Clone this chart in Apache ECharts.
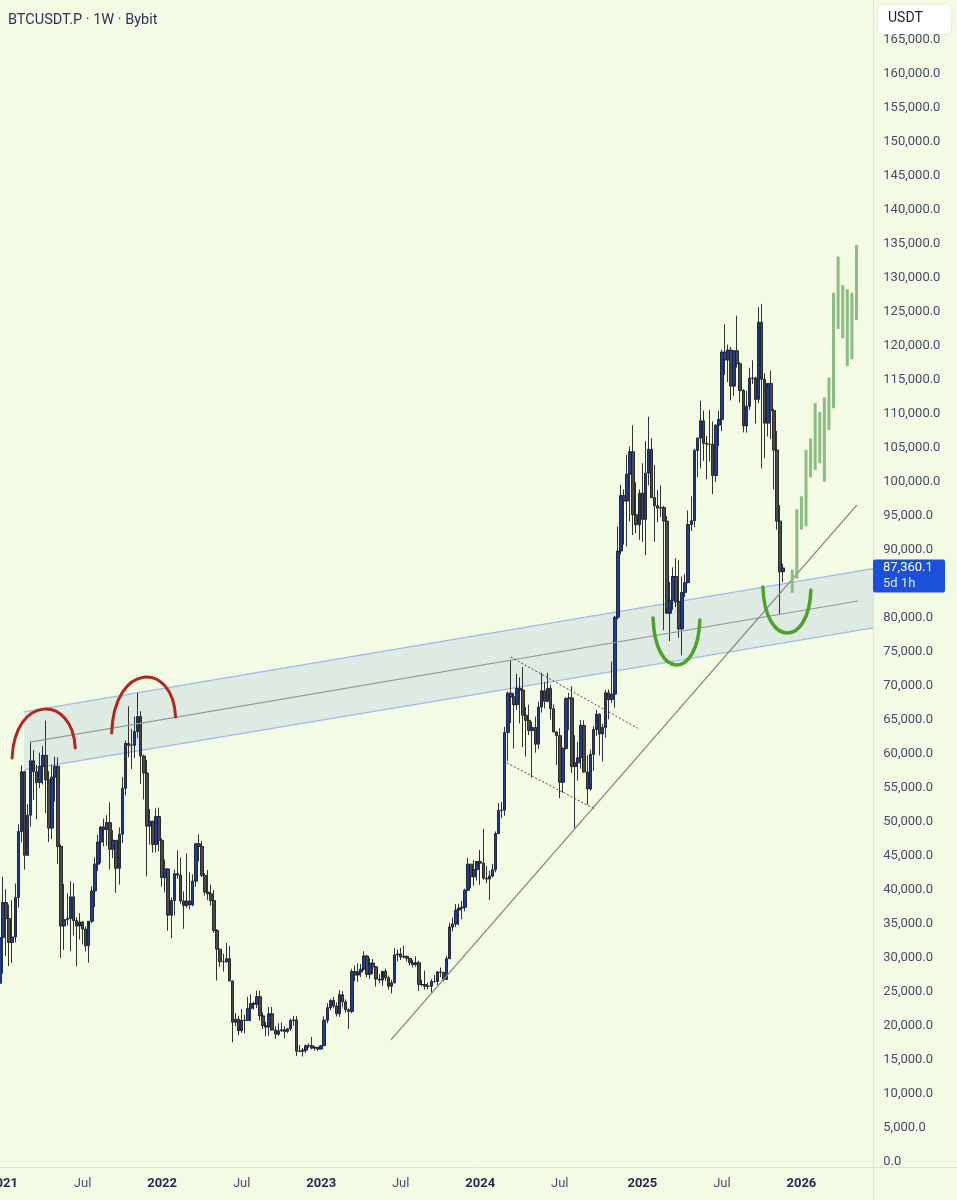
<!DOCTYPE html>
<html>
<head>
<meta charset="utf-8">
<script src="https://cdn.jsdelivr.net/npm/echarts@6/dist/echarts.min.js"></script>
<style>
html,body{margin:0;padding:0;background:#f3fbe5;}
#c{width:957px;height:1200px;}
</style>
</head>
<body>
<div id="c"></div>
<script>
// ---------------- DATA ----------------
const TITLE = 'BTCUSDT.P · 1W · Bybit';
const CURRENCY = 'USDT';
const LAST_PRICE = 87360.1;
const COUNTDOWN = '5d 1h';
const FIRST_WEEK_UTC = [2020, 11, 21];   // Monday 2020-12-21
const TOTAL_WEEKS = 287;                 // weekly slots on the time axis (incl. future)
const JULY_LABEL = 'Jul';

// weekly candles: [week, open, high, low, close]
const weeks = [
['2020-12-21',23450,28400,21800,26280],['2020-12-28',26280,34800,25900,33000],
['2021-01-04',33000,41950,27700,38150],['2021-01-11',38150,40100,30300,35800],['2021-01-18',35800,37850,28800,32280],['2021-01-25',32280,38500,29250,33100],
['2021-02-01',33100,40950,32300,38900],['2021-02-08',38900,49700,37400,48600],['2021-02-15',48600,58350,47000,57400],['2021-02-22',57400,57500,43000,45100],
['2021-03-01',45100,52600,45000,51000],['2021-03-08',51000,61800,49300,59000],['2021-03-15',59000,60600,53250,57400],['2021-03-22',57400,58400,50400,55800],['2021-03-29',55800,60200,55000,58200],
['2021-04-05',58200,61200,55500,59800],['2021-04-12',59800,64900,51300,56200],['2021-04-19',56200,57500,47050,49100],['2021-04-26',49100,58450,47500,56600],
['2021-05-03',56600,59600,53000,58200],['2021-05-10',58200,59500,43800,46400],['2021-05-17',46400,46700,30000,34700],['2021-05-24',34700,40900,31200,35650],['2021-05-31',35650,39500,34800,35800],
['2021-06-07',35800,41300,31000,39000],['2021-06-14',39000,41000,33300,35500],['2021-06-21',35500,36000,28800,34700],['2021-06-28',34700,36600,32700,35300],
['2021-07-05',35300,35400,32000,34250],['2021-07-12',34250,34650,31000,31800],['2021-07-19',31800,34500,29300,35400],['2021-07-26',35400,40550,35100,39850],
['2021-08-02',39850,44800,37500,43800],['2021-08-09',43800,48150,42800,47050],['2021-08-16',47050,49400,43950,49250],['2021-08-23',49250,50500,46400,48900],['2021-08-30',48900,51000,46500,49900],
['2021-09-06',49900,52900,43000,46000],['2021-09-13',46000,48800,44700,47300],['2021-09-20',47300,47300,39600,43200],['2021-09-27',43200,49200,40800,48200],
['2021-10-04',48200,56600,46900,54950],['2021-10-11',54950,62000,53900,61550],['2021-10-18',61550,67000,59500,61300],['2021-10-25',61300,63700,57800,61300],
['2021-11-01',61300,65500,59400,63300],['2021-11-08',63300,69000,62300,65500],['2021-11-15',65500,66300,55600,59700],['2021-11-22',59700,59900,53300,57200],['2021-11-29',57200,59100,42000,49400],
['2021-12-06',49400,51900,46700,50100],['2021-12-13',50100,50200,45500,46700],['2021-12-20',46700,52000,45550,50800],['2021-12-27',50800,52100,45700,47300],
['2022-01-03',47300,47600,40500,41850],['2022-01-10',41850,44500,39650,43100],['2022-01-17',43100,43200,34000,36300],['2022-01-24',36300,38900,32900,38450],['2022-01-31',38450,43000,36250,42400],
['2022-02-07',42400,45850,41650,42200],['2022-02-14',42200,44750,38000,38400],['2022-02-21',38400,39800,34300,37700],['2022-02-28',37700,45400,37400,38400],
['2022-03-07',38400,42600,37150,37800],['2022-03-14',37800,42300,37600,41300],['2022-03-21',41300,46900,40500,46800],['2022-03-28',46800,48200,44200,46400],
['2022-04-04',46400,47200,41900,42150],['2022-04-11',42150,42450,39200,39700],['2022-04-18',39700,42950,38550,39450],['2022-04-25',39450,40800,37700,38450],
['2022-05-02',38450,40000,33700,34050],['2022-05-09',34050,34250,26700,31300],['2022-05-16',31300,31300,28700,29450],['2022-05-23',29450,30650,28000,29450],['2022-05-30',29450,32200,29300,29900],
['2022-06-06',29900,31750,26600,26600],['2022-06-13',26600,26700,17600,20550],['2022-06-20',20550,21900,19950,21000],['2022-06-27',21000,21500,18650,19300],
['2022-07-04',19300,22500,19000,20850],['2022-07-11',20850,21650,18900,20800],['2022-07-18',20800,24300,20750,22600],['2022-07-25',22600,24650,20700,23300],
['2022-08-01',23300,23600,22400,23200],['2022-08-08',23200,25200,22650,24300],['2022-08-15',24300,25200,20800,21500],['2022-08-22',21500,22000,19550,20050],['2022-08-29',20050,20600,18500,19850],
['2022-09-05',19850,22800,18550,21800],['2022-09-12',21800,22800,19350,19400],['2022-09-19',19400,19950,18100,18800],['2022-09-26',18800,20400,18550,19300],
['2022-10-03',19300,20500,19150,19450],['2022-10-10',19450,19950,18200,19200],['2022-10-17',19200,19700,18950,19600],['2022-10-24',19600,21100,19250,20800],['2022-10-31',20800,21500,20050,20900],
['2022-11-07',20900,21450,15600,16300],['2022-11-14',16300,17200,16200,16300],['2022-11-21',16300,16750,15500,16450],['2022-11-28',16450,17300,16050,17100],
['2022-12-05',17100,17450,16800,17100],['2022-12-12',17100,18400,16550,16750],['2022-12-19',16750,17050,16400,16850],['2022-12-26',16850,16950,16350,16600],
['2023-01-02',16600,17200,16550,17100],['2023-01-09',17100,21400,17100,20850],['2023-01-16',20850,23350,20400,22700],['2023-01-23',22700,23950,22300,23750],['2023-01-30',23750,24250,22600,22950],
['2023-02-06',22950,23450,21400,21800],['2023-02-13',21800,25250,21350,24600],['2023-02-20',24600,25100,22750,23550],['2023-02-27',23550,23900,21950,22400],
['2023-03-06',22400,22600,19550,22150],['2023-03-13',22150,28400,21900,28000],['2023-03-20',28000,28900,26600,27500],['2023-03-27',27500,29200,26500,27950],
['2023-04-03',27950,29100,27200,28350],['2023-04-10',28350,31000,28150,30300],['2023-04-17',30300,30450,27150,27600],['2023-04-24',27600,30000,26950,29250],
['2023-05-01',29250,29850,27650,28700],['2023-05-08',28700,28800,25800,26900],['2023-05-15',26900,27650,26300,26750],['2023-05-22',26750,27100,25900,28050],['2023-05-29',28050,28450,26600,27100],
['2023-06-05',27100,27400,25350,25850],['2023-06-12',25850,26800,24800,26350],['2023-06-19',26350,31450,26250,30450],['2023-06-26',30450,31250,29500,30600],
['2023-07-03',30600,31500,29700,30150],['2023-07-10',30150,31800,29950,30250],['2023-07-17',30250,30350,29500,29950],['2023-07-24',29950,29950,28850,29300],['2023-07-31',29300,29750,28600,29050],
['2023-08-07',29050,30250,28700,29300],['2023-08-14',29300,29600,25150,26100],['2023-08-21',26100,26800,25800,26100],['2023-08-28',26100,28150,25350,25850],
['2023-09-04',25850,26400,25400,25850],['2023-09-11',25850,26900,24900,26550],['2023-09-18',26550,27500,26350,26550],['2023-09-25',26550,28050,26000,27950],
['2023-10-02',27950,28600,27200,27900],['2023-10-09',27900,27950,26550,26850],['2023-10-16',26850,30350,26800,29900],['2023-10-23',29900,35200,29850,34550],['2023-10-30',34550,35950,33900,35000],
['2023-11-06',35000,37950,34550,37050],['2023-11-13',37050,37950,34800,37350],['2023-11-20',37350,38400,35700,37450],['2023-11-27',37450,40200,36850,39950],
['2023-12-04',39950,44700,39950,43800],['2023-12-11',43800,43800,40250,41950],['2023-12-18',41950,44400,40600,43000],['2023-12-25',43000,43600,41400,44200],
['2024-01-01',44200,45900,40750,43950],['2024-01-08',43950,49000,41500,41750],['2024-01-15',41750,43550,41000,41600],['2024-01-22',41600,42850,38550,42050],['2024-01-29',42050,43850,41850,43000],
['2024-02-05',43000,48600,42600,48300],['2024-02-12',48300,52800,48200,51700],['2024-02-19',51700,52950,50550,51750],['2024-02-26',51750,64000,50900,63150],
['2024-03-04',63150,69200,59000,68950],['2024-03-11',68950,73800,64550,68400],['2024-03-18',68400,68950,60800,67250],['2024-03-25',67250,71800,66500,69650],
['2024-04-01',69650,71300,64500,69400],['2024-04-08',69400,72800,61000,65700],['2024-04-15',65700,66900,59600,64950],['2024-04-22',64950,67250,62800,63450],['2024-04-29',63450,64750,56550,63900],
['2024-05-06',63900,65500,60200,61450],['2024-05-13',61450,67700,60750,66900],['2024-05-20',66900,71950,66100,69300],['2024-05-27',69300,70600,66700,67750],
['2024-06-03',67750,71950,67600,69650],['2024-06-10',69650,70200,65100,66650],['2024-06-17',66650,67300,63200,63250],['2024-06-24',63250,63350,58400,62700],
['2024-07-01',62700,63800,53500,55850],['2024-07-08',55850,61000,54300,60800],['2024-07-15',60800,68350,60650,68150],['2024-07-22',68150,69000,63500,68250],['2024-07-29',68250,70000,57200,58150],
['2024-08-05',58150,62750,49000,58700],['2024-08-12',58700,61800,56100,59450],['2024-08-19',59450,65000,57850,64200],['2024-08-26',64200,64950,57250,57350],
['2024-09-02',57350,59800,52550,54850],['2024-09-09',54850,60650,54600,59950],['2024-09-16',59950,64100,57500,63600],['2024-09-23',63600,66500,62650,65850],['2024-09-30',65850,66000,59800,62950],
['2024-10-07',62950,64450,58900,63900],['2024-10-14',63900,69400,62400,69000],['2024-10-21',69000,69500,65100,68000],['2024-10-28',68000,73600,67500,68800],
['2024-11-04',68800,80300,66800,80100],['2024-11-11',80100,93450,79800,89850],['2024-11-18',89850,99600,89350,98000],['2024-11-25',98000,98900,90800,97200],
['2024-12-02',97200,104000,90500,101150],['2024-12-09',101150,105200,94200,104450],['2024-12-16',104450,108350,92200,95200],['2024-12-23',95200,99950,92500,93700],['2024-12-30',93700,98900,91500,98350],
['2025-01-06',98350,102750,91200,94500],['2025-01-13',94500,106000,89250,101300],['2025-01-20',101300,109600,99500,104800],['2025-01-27',104800,106450,97700,97700],
['2025-02-03',97700,102500,91200,96500],['2025-02-10',96500,98800,94100,96150],['2025-02-17',96150,99500,94850,96250],['2025-02-24',96250,96500,78200,94250],
['2025-03-03',94250,95000,81500,80700],['2025-03-10',80700,85300,76600,82600],['2025-03-17',82600,87450,81200,86100],['2025-03-24',86100,88800,81600,82400],['2025-03-31',82400,88500,77100,78400],
['2025-04-07',78400,86100,74500,83750],['2025-04-14',83750,86500,83100,85200],['2025-04-21',85200,95800,85100,93750],['2025-04-28',93750,97900,92800,94300],
['2025-05-05',94300,104900,93350,104650],['2025-05-12',104650,106600,100700,106450],['2025-05-19',106450,111950,102000,109000],['2025-05-26',109000,110500,103100,105700],
['2025-06-02',105700,106800,100400,105550],['2025-06-09',105550,110600,103000,105550],['2025-06-16',105550,108900,98200,100950],['2025-06-23',100950,108500,100000,108350],['2025-06-30',108350,110500,105300,109200],
['2025-07-07',109200,119500,107500,119100],['2025-07-14',119100,123200,115750,117950],['2025-07-21',117950,120200,114700,119400],['2025-07-28',119400,119850,112000,114100],
['2025-08-04',114100,119300,112650,119300],['2025-08-11',119300,124450,116800,117400],['2025-08-18',117400,117600,111700,113450],['2025-08-25',113450,113650,107300,108250],
['2025-09-01',108250,113400,107250,111150],['2025-09-08',111150,116800,110600,115250],['2025-09-15',115250,117900,114400,115300],['2025-09-22',115300,115500,108600,112150],['2025-09-29',112150,125700,111600,123500],
['2025-10-06',123500,126200,102000,115100],['2025-10-13',115100,116000,103500,108650],['2025-10-20',108650,114000,106700,114500],['2025-10-27',114500,116400,106300,110500],
['2025-11-03',110500,110750,98900,104700],['2025-11-10',104700,107500,93000,94250],['2025-11-17',94250,96600,80600,86800],['2025-11-24',86800,88000,85300,87360.1]
];

// projected path (light green bars): week position, high, low
const projWeek = [260, 261.5, 263, 264.5, 266, 267.5, 269, 270.5, 272, 273.5, 275, 276.5, 278, 279.5, 281];
const projHigh = [87100, 96000, 97900, 104700, 106400, 111600, 110300, 112450, 115350, 127850, 133150, 128950, 128350, 127850, 134850];
const projLow  = [83700, 85800, 93000, 93500, 100700, 101750, 102750, 100050, 107650, 110850, 122500, 121150, 117050, 118050, 123800];

// drawings, in [week position, price]
const channelUpper = [[8.9, 66200], [286.5, 87250]];
const channelLower = [[8.9, 57650], [286.5, 78550]];
const channelMid   = [[10.8, 61750], [281.5, 82500]];
const supportLine  = [[128.8, 17950], [281.1, 96600]];
const flagUpper    = [[168.0, 74250], [209.5, 63800]];
const flagLower    = [[166.7, 58700], [195.5, 51900]];
const redArcs   = [[[4.95, 59400], [15.7, 66600], [25.6, 60900]], [[37.5, 63100], [48.3, 71300], [58.4, 65450]]];
const greenArcs = [[[214.5, 80000], [222.3, 73100], [229.8, 79700]], [[250.4, 84550], [259.2, 77800], [266.1, 84100]]];

const Y_MAX = 170000, Y_STEP = 5000, Y_LABEL_MAX = 165000;

// ---------------- BUILD ----------------
const DAY = 86400000;
const t0 = Date.UTC(FIRST_WEEK_UTC[0], FIRST_WEEK_UTC[1], FIRST_WEEK_UTC[2]);
const categories = [];
for (let i = 0; i < TOTAL_WEEKS; i++) categories.push(new Date(t0 + i * 7 * DAY).toISOString().slice(0, 10));
const idxOf = {};
categories.forEach((c, i) => idxOf[c] = i);
const candleData = categories.map(() => '-');
weeks.forEach(r => { candleData[idxOf[r[0]]] = [r[1], r[4], r[3], r[2]]; });
const projData = projWeek.map((w, i) => [w, projHigh[i], projLow[i]]);

function isLabelWeek(v) {
  const m = v.slice(5, 7), d = +v.slice(8, 10);
  return (m === '01' || m === '07') && d <= 7;
}

const FONT = 'Roboto, "Noto Sans", sans-serif';

function lineSeries(pts, style, z) {
  return {
    type: 'custom', xAxisIndex: 1, yAxisIndex: 0, z: z, silent: true, clip: true,
    data: [[pts[0][0], pts[0][1]]],
    renderItem: (params, api) => {
      const a = api.coord(pts[0]), b = api.coord(pts[1]);
      return { type: 'line', shape: { x1: a[0], y1: a[1], x2: b[0], y2: b[1] }, style: style };
    }
  };
}
function arcSeries(arcs, color, width, z) {
  return {
    type: 'custom', xAxisIndex: 1, yAxisIndex: 0, z: z, silent: true, clip: true,
    data: arcs.map(a => [a[1][0], a[1][1]]),
    renderItem: (params, api) => {
      const arc = arcs[params.dataIndex];
      const p0 = api.coord(arc[0]), pm = api.coord(arc[1]), p3 = api.coord(arc[2]);
      const c = (pm[1] - (p0[1] + p3[1]) / 8) * 4 / 3;
      const dx = (p3[0] - p0[0]) * 0.04;
      return { type: 'bezierCurve',
        shape: { x1: p0[0], y1: p0[1], x2: p3[0], y2: p3[1], cpx1: p0[0] + dx, cpy1: c, cpx2: p3[0] - dx, cpy2: c },
        style: { stroke: color, lineWidth: width, fill: null, lineCap: 'round' } };
    }
  };
}

const chart = echarts.init(document.getElementById('c'), null, { renderer: 'canvas' });
const option = {
  backgroundColor: '#f3fbe5',
  animation: false,
  grid: { left: -4.6, right: 83.7, top: 6, height: 1156, containLabel: false, outerBoundsMode: 'none' },
  xAxis: [{
    type: 'category', data: categories, boundaryGap: true,
    axisLine: { show: false }, axisTick: { show: false }, splitLine: { show: false },
    axisLabel: {
      interval: (i, v) => isLabelWeek(v), margin: 15, hideOverlap: false,
      formatter: v => v.slice(5, 7) === '01' ? '{y|' + v.slice(0, 4) + '}' : '{m|' + JULY_LABEL + '}',
      rich: {
        y: { fontFamily: FONT, fontSize: 13, fontWeight: 'bold', color: '#1f2a4c' },
        m: { fontFamily: FONT, fontSize: 13, color: '#48536d' }
      }
    }
  }, {
    type: 'value', min: -0.5, max: TOTAL_WEEKS - 0.5, show: false
  }],
  yAxis: [{
    type: 'value', position: 'right', min: 0, max: Y_MAX, interval: Y_STEP,
    axisLine: { show: false }, axisTick: { show: false }, splitLine: { show: false },
    axisLabel: {
      margin: 10, color: '#434e68', fontSize: 13, fontFamily: FONT,
      formatter: v => v > Y_LABEL_MAX ? '' : v.toLocaleString('en-US', { minimumFractionDigits: 1, maximumFractionDigits: 1 })
    }
  }],
  series: [
    { // channel fill
      type: 'custom', xAxisIndex: 1, yAxisIndex: 0, z: 1, silent: true, clip: true,
      data: [[channelUpper[0][0], channelUpper[0][1]]],
      renderItem: (params, api) => ({
        type: 'polygon',
        shape: { points: [api.coord(channelUpper[0]), api.coord(channelUpper[1]), api.coord(channelLower[1]), api.coord(channelLower[0])] },
        style: { fill: 'rgba(105,140,205,0.15)' }
      })
    },
    lineSeries(channelUpper, { stroke: '#9fb9ec', lineWidth: 1.3 }, 2),
    lineSeries(channelLower, { stroke: '#9fb9ec', lineWidth: 1.3 }, 2),
    {
      type: 'candlestick', xAxisIndex: 0, yAxisIndex: 0, z: 3,
      data: candleData, barWidth: 3,
      itemStyle: { color: '#1f3c98', color0: '#4a4a4a', borderColor: '#171c2c', borderColor0: '#1c1c1c', borderWidth: 0.9 }
    },
    lineSeries(channelMid, { stroke: '#8e9b99', lineWidth: 1.2 }, 4),
    lineSeries(supportLine, { stroke: '#7e8981', lineWidth: 1.3 }, 4),
    lineSeries(flagUpper, { stroke: '#4a4a4a', lineWidth: 1, lineDash: [2, 2] }, 4),
    lineSeries(flagLower, { stroke: '#4a4a4a', lineWidth: 1, lineDash: [2, 2] }, 4),
    {
      type: 'custom', xAxisIndex: 1, yAxisIndex: 0, z: 5, silent: true, clip: true,
      data: projData, encode: { x: 0, y: [1, 2] },
      renderItem: (params, api) => {
        const hi = api.coord([api.value(0), api.value(1)]);
        const lo = api.coord([api.value(0), api.value(2)]);
        return { type: 'rect', shape: { x: hi[0] - 1.5, y: hi[1], width: 3, height: lo[1] - hi[1] }, style: { fill: '#8cbc84' } };
      }
    },
    arcSeries(redArcs, '#b0281f', 3, 6),
    arcSeries(greenArcs, '#4ea22c', 3.5, 6)
  ],
  graphic: [
    { type: 'text', left: 8, top: 13, z: 100, style: { text: TITLE, font: '14.5px ' + FONT, fill: '#2b3556' } },
    { type: 'line', z: 50, shape: { x1: 0, y1: 1167.5, x2: 957, y2: 1167.5 }, style: { stroke: '#dde6d4', lineWidth: 1 } },
    { type: 'line', z: 50, shape: { x1: 873.5, y1: 0, x2: 873.5, y2: 1200 }, style: { stroke: '#dde6d4', lineWidth: 1 } },
    { type: 'rect', z: 100, shape: { x: 878, y: 5, width: 73, height: 29, r: 5 }, style: { fill: '#ffffff', shadowBlur: 3, shadowColor: 'rgba(0,0,0,0.12)' } },
    { type: 'text', z: 101, left: 888, top: 11, style: { text: CURRENCY, font: '14px ' + FONT, fill: '#1e2230' } }
  ]
};
chart.setOption(option);

const py = chart.convertToPixel({ yAxisIndex: 0 }, LAST_PRICE);
chart.setOption({
  graphic: option.graphic.concat([
    { type: 'rect', z: 100, shape: { x: 873, y: py - 8.5, width: 72, height: 33, r: 2 }, style: { fill: '#1b4fdc' } },
    { type: 'text', z: 101, x: 883, y: py, style: { text: LAST_PRICE.toLocaleString('en-US', { minimumFractionDigits: 1 }), font: '13px ' + FONT, fill: '#ffffff', verticalAlign: 'middle' } },
    { type: 'text', z: 101, x: 883, y: py + 16, style: { text: COUNTDOWN, font: '13px ' + FONT, fill: '#dfe7ff', verticalAlign: 'middle' } }
  ])
});
</script>
</body>
</html>
